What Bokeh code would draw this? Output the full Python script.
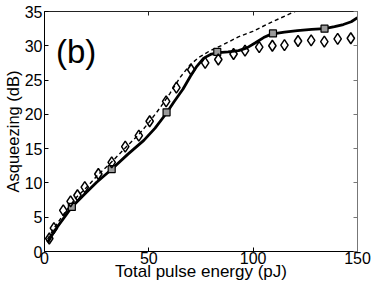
from bokeh.plotting import figure
from bokeh.models import LinearAxis, FixedTicker, Range1d, Label, CustomLabelingPolicy
from bokeh.embed import file_html
from bokeh.resources import INLINE

# ---- data ----
energy_solid = [1.5, 5, 10, 13.1, 20, 25, 32.2, 40, 47.6, 53, 58.5, 62, 66.4, 70, 73, 76.3, 80,
                83.6, 88, 93, 97, 100.9, 105, 108.7, 115, 121.2, 128, 134.2, 139, 143.2, 147, 150]
asq_solid = [1.3, 3.1, 5.2, 6.5, 8.6, 10.1, 12.0, 14.2, 16.2, 18.0, 20.2, 21.8, 23.7, 25.6, 27.0, 28.2, 28.8,
             29.0, 29.1, 29.3, 29.7, 30.4, 31.2, 31.7, 32.0, 32.2, 32.4, 32.5, 32.8, 33.1, 33.5, 34.1]

energy_dashed = [1.5, 5, 10, 15, 20, 26, 32, 39, 45, 50, 55, 60, 65, 70, 74, 78.9, 85.9, 92.9,
                 99.8, 109.2, 120, 125]
asq_dashed = [1.8, 3.6, 5.8, 7.8, 9.3, 11.3, 13.0, 15.2, 17.0, 18.8, 20.8, 23.0, 25.4, 27.3, 28.3, 29.2,
              30.2, 31.3, 32.1, 33.5, 35.0, 35.8]

energy_square = [13.1, 32.2, 58.5, 82.8, 109.5, 134.2]
asq_square = [6.5, 12.0, 20.3, 29.1, 31.8, 32.5]

energy_diamond = [2.3, 4.5, 9.0, 12.5, 15.8, 19.3, 25.8, 32.2, 38.7, 45.2, 50.4, 58.3, 63.2, 70.3, 77.0,
                  83.3, 90.6, 96.1, 102.9, 109.2, 115.0, 121.5, 127.8, 134.1, 140.5, 146.8]
asq_diamond = [1.9, 3.4, 6.0, 7.3, 8.2, 9.4, 11.3, 13.0, 15.3, 16.9, 19.0, 21.9, 23.9, 26.5, 27.5,
               28.0, 28.8, 29.3, 29.8, 30.0, 30.1, 30.7, 30.8, 30.6, 31.0, 31.1]

x_ticks = [0, 50, 100, 150]
y_ticks = [0, 5, 10, 15, 20, 25, 30, 35]
x_label = "Total pulse energy (pJ)"
y_label = "Asqueezing (dB)"
panel_label = "(b)"

FONT = "Liberation Sans"

p = figure(width=372, height=283, output_backend="svg", toolbar_location=None,
           x_range=Range1d(0, 150), y_range=Range1d(0, 35),
           x_axis_location=None, y_axis_location=None,
           min_border_left=37, min_border_right=15, min_border_top=5, min_border_bottom=31)
p.background_fill_color = "white"
p.border_fill_color = "white"
p.outline_line_color = None
p.xgrid.visible = False
p.ygrid.visible = False

def style_axis(ax, ticks, show_labels, color="black"):
    ax.ticker = FixedTicker(ticks=ticks)
    ax.minor_tick_line_color = None
    ax.major_tick_in = 4
    ax.major_tick_out = 0
    ax.axis_line_color = color
    ax.major_tick_line_color = color
    ax.axis_line_width = 1
    if show_labels:
        ax.major_label_text_font = FONT
        ax.major_label_text_font_size = "16px"
        ax.major_label_text_color = "black"
    else:
        ax.major_label_policy = CustomLabelingPolicy(code="return new Set()")
        ax.major_label_standoff = 0

xb = LinearAxis(axis_label=x_label)
style_axis(xb, x_ticks, True)
xb.major_label_standoff = 0
xb.axis_label_standoff = -5
xb.axis_label_text_font = FONT
xb.axis_label_text_font_size = "17px"
xb.axis_label_text_font_style = "normal"
xb.axis_label_text_color = "black"
p.add_layout(xb, "below")

yl = LinearAxis(axis_label=y_label)
style_axis(yl, y_ticks, True)
yl.major_label_standoff = 2
yl.axis_label_standoff = 0
yl.axis_label_text_font = FONT
yl.axis_label_text_font_size = "16.5px"
yl.axis_label_text_font_style = "normal"
yl.axis_label_text_color = "black"
p.add_layout(yl, "left")

xt = LinearAxis()
style_axis(xt, x_ticks, False, "#222222")
p.add_layout(xt, "above")

yr = LinearAxis()
style_axis(yr, y_ticks, False, "#777777")
p.add_layout(yr, "right")

p.line(energy_dashed, asq_dashed, line_color="black", line_width=1.4, line_dash="4 3")
p.line(energy_solid, asq_solid, line_color="black", line_width=2.8)
p.scatter(energy_square, asq_square, marker="square", size=7, line_color="black",
          line_width=1.2, fill_color="#9a9a9a")
p.scatter(energy_diamond, asq_diamond, marker="diamond", size=11, line_color="black",
          line_width=1.5, fill_alpha=0)

p.add_layout(Label(x=5.5, y=29.2, text=panel_label, text_font=FONT, text_font_size="33px",
                   text_baseline="alphabetic", text_color="black"))

open("out.html", "w").write(file_html(p, INLINE))
